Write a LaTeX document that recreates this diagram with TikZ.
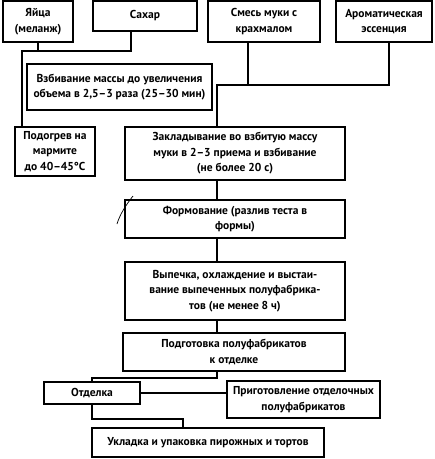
\documentclass[tikz,border=0pt]{standalone}
\usepackage{fontspec}
\setmainfont{PT Sans}
\begin{document}
\begin{tikzpicture}[x=1pt,y=-1pt,
  box/.style={draw,line width=1.2pt,inner sep=0pt,align=center,font=\bfseries\fontsize{11.5}{15.5}\selectfont},
  conn/.style={line width=1.2pt}]
\useasboundingbox (0,0) rectangle (435,459);
\node[box,minimum width=70,minimum height=41] (egg) at (38,21.5) {Яйца\\(меланж)};
\node[box,minimum width=104,minimum height=30] (sugar) at (145,16) {Сахар};
\node[box,minimum width=112,minimum height=41] (flour) at (264,21.5) {Смесь муки с\\крахмалом};
\node[box,minimum width=96,minimum height=41] (aroma) at (384,21.5) {Ароматическая\\эссенция};
\node[box,minimum width=185,minimum height=46] (whip) at (119.5,87) {Взбивание массы до увеличения\\объема в 2,5--3 раза (25--30 мин)};
\node[box,minimum width=80,minimum height=49] (heat) at (55,151.5) {Подогрев на\\мармите\\до 40--45°C};
\node[box,minimum width=220,minimum height=53] (fold) at (235,153.5) {Закладывание во взбитую массу\\муки в 2--3 приема и взбивание\\(не более 20 с)};
\node[box,minimum width=220,minimum height=38] (form) at (235,219) {Формование (разлив теста в\\формы)};
\node[box,minimum width=220,minimum height=58] (bake) at (235,291) {Выпечка, охлаждение и выстаи-\\вание выпеченных полуфабрика-\\тов (не менее 8 ч)};
\node[box,minimum width=222,minimum height=38] (prep) at (234,352) {Подготовка полуфабрикатов\\к отделке};
\node[box,minimum width=96,minimum height=22] (finish) at (92,393) {Отделка};
\node[box,minimum width=153,minimum height=37] (prepfin) at (303.5,399.5) {Приготовление отделочных\\полуфабрикатов};
\node[box,minimum width=232,minimum height=29] (pack) at (208,442.5) {Укладка и упаковка пирожных и тортов};
\coordinate (jA) at (22,51);
\coordinate (jB) at (131,51);
\coordinate (jC) at (248,85);
\coordinate (jD) at (389,85);
\coordinate (jE) at (217,85);
\coordinate (jG) at (217,378);
\coordinate (jH) at (183,419);
\draw[conn] (egg.south) -- (egg.south |- jA);
\draw[conn] (sugar.south -| jB) -- (jB) -- (jA) -- (jA |- heat.north);
\draw[conn] (flour.south -| jC) -- (jC);
\draw[conn] (aroma.south -| jD) -- (jD) -- (jE) -- (jE |- fold.north);
\draw[conn] (fold.south -| jE) -- (form.north -| jE);
\draw[conn] (form.south -| jE) -- (bake.north -| jE);
\draw[conn] (bake.south -| jE) -- (prep.north -| jE);
\draw[conn] (prep.south -| jG) -- (jG) -- (jG -| finish.north) -- (finish.north);
\draw[conn] (finish.east) -- (finish.east -| prepfin.west);
\draw[conn] (finish.south) -- (finish.south |- jH) -- (jH) -- (jH |- pack.north);
\draw[line width=0.7pt] (133,196) .. controls (126,205) and (120,214) .. (117,224);
\end{tikzpicture}
\end{document}
